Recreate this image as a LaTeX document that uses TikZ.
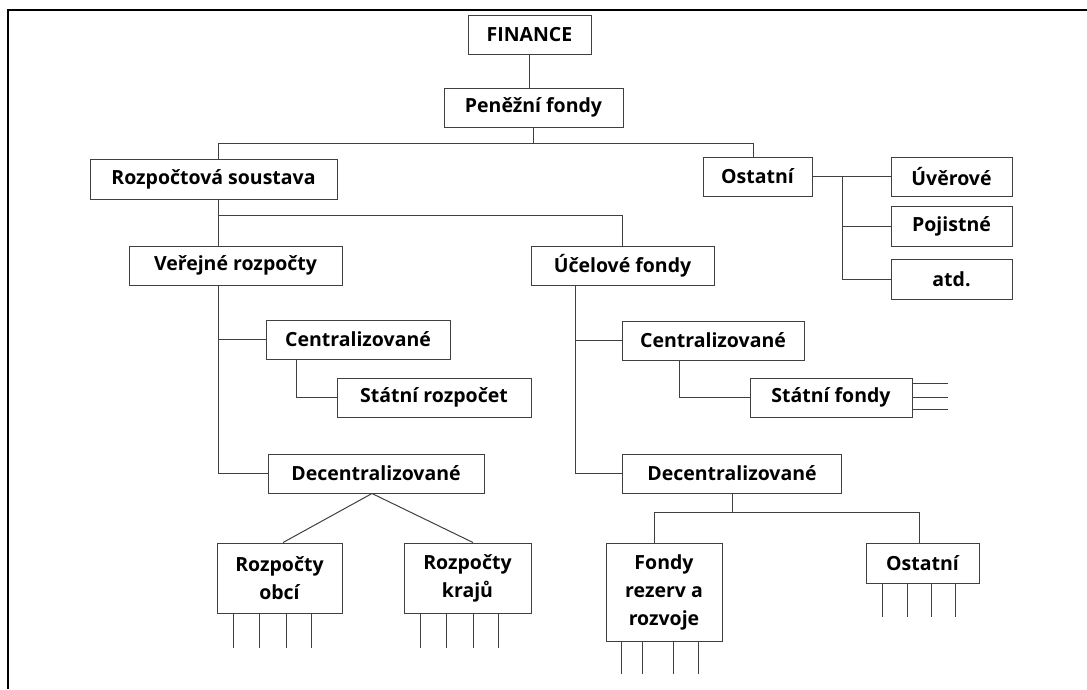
\documentclass[tikz,border=0pt]{standalone}
\usepackage{fontspec}
\setmainfont{Open Sans}

\begin{document}
\begin{tikzpicture}[x=1pt,y=-1pt,
    box/.style={draw=black!75, line width=1pt, fill=white, inner sep=0pt,
      font=\bfseries\fontsize{19.5}{28}\selectfont, align=center},
    link/.style={draw=black!75, line width=1pt}]
  \useasboundingbox (0,0) rectangle (1087,689);
  % frame
  \draw[line width=2.2pt] (8,689) -- (8,10) -- (1087,10);
  % top levels
  \node[box, minimum width=123, minimum height=39] (fin) at (529.5,34.5) {FINANCE};
  \node[box, minimum width=179, minimum height=39] (pen) at (533.5,107.5) {Peněžní fondy};
  \node[box, minimum width=247, minimum height=40] (rs) at (213.5,179) {Rozpočtová soustava};
  \node[box, minimum width=109, minimum height=39] (ost) at (757.5,176.5) {Ostatní};
  \node[box, minimum width=121, minimum height=39] (uver) at (951.5,176.5) {Úvěrové};
  \node[box, minimum width=121, minimum height=40] (poj) at (951.5,226) {Pojistné};
  \node[box, minimum width=121, minimum height=40] (atd) at (951.5,279) {atd.};
  % budgets and funds
  \node[box, minimum width=213, minimum height=39] (ver) at (235.5,265.5) {Veřejné rozpočty};
  \node[box, minimum width=183, minimum height=39] (ucel) at (622.5,265.5) {Účelové fondy};
  \node[box, minimum width=184, minimum height=39] (cenL) at (358,339.5) {Centralizované};
  \node[box, minimum width=194, minimum height=39] (strL) at (434,397.5) {Státní rozpočet};
  \node[box, minimum width=216, minimum height=39] (decL) at (376,473.5) {Decentralizované};
  \node[box, minimum width=182, minimum height=39] (cenR) at (713,340.5) {Centralizované};
  \node[box, minimum width=162, minimum height=39] (stf) at (831,397.5) {Státní fondy};
  \node[box, minimum width=219, minimum height=39] (decR) at (732,473.5) {Decentralizované};
  % bottom row
  \node[box, minimum width=125, minimum height=70] (obce) at (279.5,578) {Rozpočty\\obcí};
  \node[box, minimum width=127, minimum height=70] (kraje) at (467.5,578) {Rozpočty\\krajů};
  \node[box, minimum width=116, minimum height=98] (rezerv) at (664,592) {Fondy\\rezerv a\\rozvoje};
  \node[box, minimum width=113, minimum height=40] (ostR) at (922.5,563) {Ostatní};
  % connectors
  \draw[link] (fin.south) -- (fin.south |- pen.north);
  \draw[link] (pen.south) -- ++(0,16) coordinate (jp);
  \draw[link] ([xshift=4.5]rs.north) |- (jp) -| ([xshift=-4.5]ost.north);
  \coordinate (tO) at (842,180);
  \draw[link] (ost.east) -- (uver.west);
  \draw[link] (ost.east -| tO) |- (poj.west);
  \draw[link] (ost.east -| tO) |- (atd.west);
  \coordinate (tL) at (218,215);
  \draw[link] (tL |- rs.south) -- (tL) -| (ucel.north);
  \draw[link] (tL) -- (tL |- ver.north);
  \draw[link] (tL |- ver.south) |- (decL.west);
  \draw[link] (tL |- cenL.west) -- (cenL.west);
  \draw[link] ([xshift=31]cenL.south west) |- (strL.west);
  \coordinate (tR) at ([xshift=45]ucel.south west);
  \draw[link] (tR) |- (decR.west);
  \draw[link] (tR |- cenR.west) -- (cenR.west);
  \draw[link] ([xshift=58]cenR.south west) |- (stf.west);
  \foreach \dy in {14,0,-12} \draw[link] ([yshift=\dy]stf.east) -- ++(35,0);
  \draw[link] (decR.south) -- ++(0,19) coordinate (jd);
  \draw[link] ([xshift=-10]rezerv.north) |- (jd) -| ([xshift=-3.5]ostR.north);
  \draw[link] ([xshift=3.5]obce.north) -- ([xshift=-4]decL.south) -- ([xshift=5.5]kraje.north);
  % open ends
  \foreach \n in {obce,kraje} \foreach \dx in {17,43,70,95} \draw[link] ([xshift=\dx]\n.south west) -- ++(0,34);
  \foreach \dx in {16,37,68,93} \draw[link] ([xshift=\dx]rezerv.south west) -- ++(0,32);
  \foreach \dx in {17,42,66,90} \draw[link] ([xshift=\dx]ostR.south west) -- ++(0,33);
\end{tikzpicture}
\end{document}
